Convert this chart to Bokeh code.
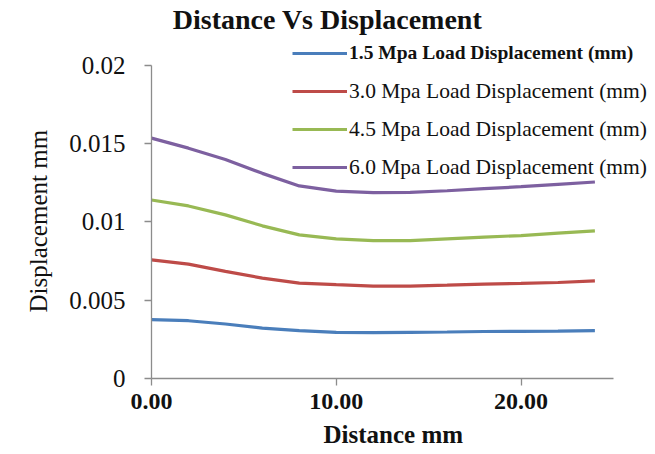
from bokeh.plotting import figure
from bokeh.models import (Range1d, FixedTicker, CustomJSTickFormatter, Legend, LegendItem, Label, Title)
from bokeh.embed import file_html
from bokeh.resources import INLINE

distance = [0, 2, 4, 6, 8, 10, 12, 14, 16, 18, 20, 22, 24]
disp_15 = [0.00376, 0.00369, 0.00348, 0.00322, 0.00306, 0.00295, 0.00293, 0.00295, 0.00297, 0.00300, 0.00301, 0.00303, 0.00306]
disp_30 = [0.00758, 0.00730, 0.00684, 0.00641, 0.00609, 0.00599, 0.00590, 0.00590, 0.00596, 0.00603, 0.00607, 0.00613, 0.00624]
disp_45 = [0.01140, 0.01102, 0.01045, 0.00975, 0.00917, 0.00892, 0.00881, 0.00881, 0.00892, 0.00903, 0.00913, 0.00928, 0.00943]
disp_60 = [0.01535, 0.01471, 0.01399, 0.01310, 0.01230, 0.01197, 0.01187, 0.01189, 0.01199, 0.01212, 0.01225, 0.01240, 0.01255]

labels = ["1.5 Mpa Load Displacement (mm)", "3.0 Mpa Load Displacement (mm)",
          "4.5 Mpa Load Displacement (mm)", "6.0 Mpa Load Displacement (mm)"]
colors = ["#4A7EBB", "#BE4B48", "#98B954", "#7D60A0"]
x_ticks = [0, 10, 20]
y_ticks = [0, 0.005, 0.01, 0.015, 0.02]
title_text = "Distance Vs Displacement"
x_title = "Distance mm"
y_title = "Displacement mm"

FONT = "Liberation Serif"

p = figure(width=655, height=454, output_backend="svg", toolbar_location=None,
           x_range=Range1d(0, 27.28), y_range=Range1d(0, 0.02414),
           min_border_left=151, min_border_right=0, min_border_top=0, min_border_bottom=75)

p.xgrid.visible = False
p.ygrid.visible = False
p.outline_line_color = None

renderers = []
for ys, c in zip([disp_15, disp_30, disp_45, disp_60], colors):
    r = p.line(distance, ys, line_color=c, line_width=3.2)
    renderers.append(r)

for ax in (p.xaxis[0], p.yaxis[0]):
    ax.axis_line_color = "#8c8c8c"
    ax.major_tick_line_color = "#8c8c8c"
    ax.axis_line_width = 1.3
    ax.major_tick_line_width = 1.3
    ax.minor_tick_line_color = None
    ax.major_tick_in = 0
    ax.major_tick_out = 7
    ax.major_label_text_font = FONT
    ax.major_label_text_color = "#111111"

p.xaxis.bounds = (0, 25)
p.yaxis.bounds = (0, 0.02)
p.xaxis.ticker = FixedTicker(ticks=x_ticks)
p.yaxis.ticker = FixedTicker(ticks=y_ticks)
p.xaxis.formatter = CustomJSTickFormatter(code="return tick.toFixed(2);")
p.yaxis.formatter = CustomJSTickFormatter(code="return (+tick.toFixed(4)).toString();")
p.xaxis.major_label_text_font_size = "24px"
p.xaxis.major_label_text_font_style = "bold"
p.yaxis.major_label_text_font_size = "25px"
p.xaxis.major_label_standoff = 8
p.yaxis.major_label_standoff = 19

# axis titles as side-panel titles so they can be offset along the axis
yt = Title(text=y_title, align="left", offset=66, standoff=30,
           text_font=FONT, text_font_size="25px", text_font_style="normal", text_color="#111111")
xt = Title(text=x_title, align="left", offset=172, standoff=14,
           text_font=FONT, text_font_size="25px", text_font_style="bold", text_color="#111111")
p.add_layout(yt, "left")
p.add_layout(xt, "below")

title = Label(x=176, y=359, x_units="screen", y_units="screen", text=title_text,
              text_font=FONT, text_font_size="28px", text_font_style="bold",
              text_align="center", text_baseline="middle", text_color="#111111")
p.add_layout(title)

def make_legend(items, loc, style, size):
    return Legend(items=items, location=loc, orientation="vertical",
                  glyph_width=55, glyph_height=38, label_height=38, label_standoff=2,
                  padding=0, spacing=0, margin=0,
                  border_line_color=None, background_fill_alpha=0,
                  label_text_font=FONT, label_text_font_size=size,
                  label_text_font_style=style, label_text_color="#111111")

lg1 = make_legend([LegendItem(label=labels[0], renderers=[renderers[0]])], (141, 306), "bold", "19.5px")
lg2 = make_legend([LegendItem(label=labels[i], renderers=[renderers[i]]) for i in range(1, 4)], (141, 192), "normal", "21.5px")
p.add_layout(lg1, "center")
p.add_layout(lg2, "center")

open("out.html", "w").write(file_html(p, INLINE))
